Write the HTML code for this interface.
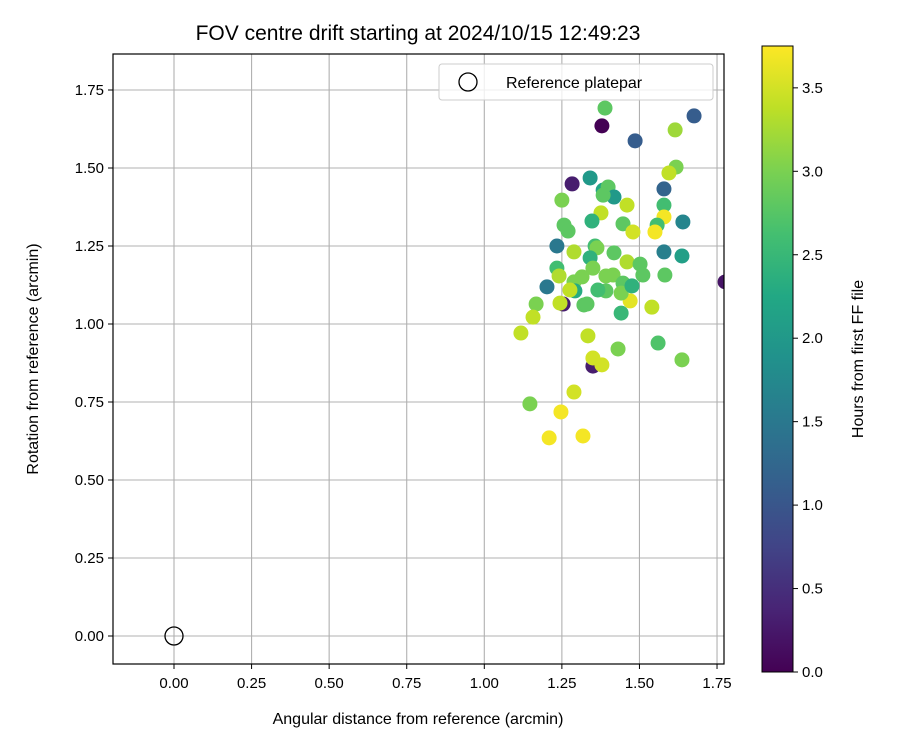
<!DOCTYPE html>
<html><head><meta charset="utf-8"><style>
body{margin:0;background:#fff}
svg text{font-family:"Liberation Sans","DejaVu Sans",sans-serif;fill:#000}
</style></head><body>
<svg id="c" width="900" height="750" xmlns="http://www.w3.org/2000/svg">
<defs>
<clipPath id="pc"><rect x="113" y="54" width="611" height="610"/></clipPath>
<linearGradient id="vir" x1="0" y1="1" x2="0" y2="0">
<stop offset="0" stop-color="#440154"/><stop offset="0.1" stop-color="#482475"/><stop offset="0.2" stop-color="#414487"/><stop offset="0.3" stop-color="#355f8d"/><stop offset="0.4" stop-color="#2a788e"/><stop offset="0.5" stop-color="#21918c"/><stop offset="0.6" stop-color="#22a884"/><stop offset="0.7" stop-color="#44bf70"/><stop offset="0.8" stop-color="#7ad151"/><stop offset="0.9" stop-color="#bddf26"/><stop offset="1" stop-color="#fde725"/>
</linearGradient>
</defs>
<text x="418" y="40" font-size="21" text-anchor="middle">FOV centre drift starting at 2024/10/15 12:49:23</text>
<g id="grid"></g>
<g id="pts" clip-path="url(#pc)"></g>
<rect x="113" y="54" width="611" height="610" fill="none" stroke="#000" stroke-width="1.2"/>
<g id="ticks"></g>
<text x="418" y="724" font-size="16" text-anchor="middle">Angular distance from reference (arcmin)</text>
<text transform="translate(38,359) rotate(-90)" font-size="16" text-anchor="middle">Rotation from reference (arcmin)</text>
<g>
<rect x="439" y="64" width="274" height="36" rx="3" fill="#fff" fill-opacity="0.8" stroke="#ccc"/>
<circle cx="468" cy="82" r="9" fill="none" stroke="#000" stroke-width="1.3"/>
<text x="506" y="88" font-size="16">Reference platepar</text>
</g>
<rect x="762" y="46" width="31" height="626" fill="url(#vir)" stroke="#000" stroke-width="1"/>
<g id="cbt"></g>
<text transform="translate(863,359) rotate(-90)" font-size="16" text-anchor="middle">Hours from first FF file</text>
</svg>
<script>
const xTicks=[0,0.25,0.5,0.75,1.0,1.25,1.5,1.75];
const yTicks=[0,0.25,0.5,0.75,1.0,1.25,1.5,1.75];
const cbTicks=[0,0.5,1.0,1.5,2.0,2.5,3.0,3.5];
const refX=[0];const refY=[0];
const xs=[1.389,1.379,1.676,1.615,1.486,1.618,1.595,1.283,1.341,1.579,1.383,1.399,1.418,1.383,1.250,1.460,1.376,1.579,1.579,1.557,1.257,1.347,1.270,1.447,1.640,1.479,1.550,1.234,1.357,1.289,1.363,1.418,1.579,1.637,1.234,1.341,1.460,1.502,1.511,1.415,1.241,1.289,1.350,1.392,1.582,1.447,1.202,1.292,1.167,1.254,1.244,1.321,1.331,1.392,1.470,1.441,1.540,1.157,1.118,1.441,1.276,1.315,1.366,1.476,1.334,1.431,1.560,1.637,1.350,1.350,1.379,1.147,1.289,1.247,1.209,1.318,1.776];
const ys=[1.692,1.635,1.667,1.622,1.587,1.503,1.484,1.449,1.468,1.433,1.429,1.439,1.407,1.413,1.397,1.381,1.356,1.381,1.343,1.317,1.317,1.330,1.298,1.321,1.327,1.295,1.295,1.250,1.250,1.231,1.244,1.228,1.231,1.218,1.179,1.212,1.199,1.192,1.157,1.157,1.154,1.135,1.179,1.154,1.157,1.131,1.119,1.106,1.064,1.064,1.067,1.061,1.064,1.106,1.074,1.099,1.054,1.022,0.971,1.035,1.109,1.151,1.109,1.122,0.962,0.920,0.939,0.885,0.865,0.891,0.869,0.744,0.782,0.718,0.635,0.641,1.135];
const hours=[2.8,0.0,1.1,3.2,1.1,3.0,3.4,0.3,2.0,1.2,2.2,2.8,2.0,2.8,3.0,3.4,3.4,2.6,3.7,2.6,2.8,2.4,2.8,2.8,1.7,3.5,3.7,1.5,2.6,3.3,3.0,2.8,1.6,2.1,2.6,2.4,3.3,2.8,2.8,3.0,3.3,3.0,3.0,3.0,2.8,2.8,1.5,2.3,3.0,0.3,3.4,2.8,2.8,2.8,3.6,3.0,3.4,3.4,3.4,2.5,3.4,3.0,2.6,2.4,3.4,3.0,2.7,3.0,0.3,3.5,3.5,3.0,3.5,3.7,3.7,3.7,0.2];
const NS="http://www.w3.org/2000/svg";
const X=v=>174+v*310.3, Y=v=>636-v*312, CB=v=>672-v*166.9;
const vir=["#440154","#482475","#414487","#355f8d","#2a788e","#21918c","#22a884","#44bf70","#7ad151","#bddf26","#fde725"];
function hex(c){return [1,3,5].map(i=>parseInt(c.substr(i,2),16));}
function col(h){let t=Math.max(0,Math.min(1,h/3.75))*10;let i=Math.min(9,Math.floor(t)),f=t-i;let a=hex(vir[i]),b=hex(vir[i+1]);return "rgb("+a.map((v,k)=>Math.round(v+(b[k]-v)*f)).join(",")+")";}
function mk(tag,at,parent){const e=document.createElementNS(NS,tag);for(const k in at)e.setAttribute(k,at[k]);parent.appendChild(e);return e;}
const grid=document.getElementById('grid'),ticks=document.getElementById('ticks'),pts=document.getElementById('pts'),cbt=document.getElementById('cbt');
xTicks.forEach(v=>{const l=mk('line',{x1:X(v),x2:X(v),y1:54,y2:664,stroke:'#b0b0b0','stroke-width':1.1},grid);

mk('line',{x1:X(v),x2:X(v),y1:664,y2:669,stroke:'#000'},ticks);
const t=mk('text',{x:X(v),y:688,'font-size':15,'text-anchor':'middle'},ticks);t.textContent=v.toFixed(2);
});
yTicks.forEach(v=>{const l=mk('line',{x1:113,x2:724,y1:Y(v),y2:Y(v),stroke:'#b0b0b0','stroke-width':1.1},grid);

mk('line',{x1:108,x2:113,y1:Y(v),y2:Y(v),stroke:'#000'},ticks);
const t=mk('text',{x:104,y:Y(v)+5,'font-size':15,'text-anchor':'end'},ticks);t.textContent=v.toFixed(2);
});
xs.forEach((x,i)=>{const c=mk('circle',{cx:X(x),cy:Y(ys[i]),r:7.5,fill:col(hours[i])},pts);
});
refX.forEach((x,i)=>{const c=mk('circle',{cx:X(x),cy:Y(refY[i]),r:9,fill:'none',stroke:'#000','stroke-width':1.3},pts);
});
cbTicks.forEach(v=>{mk('line',{x1:793,x2:798,y1:CB(v),y2:CB(v),stroke:'#000'},cbt);
const t=mk('text',{x:802,y:CB(v)+5,'font-size':15},cbt);t.textContent=v.toFixed(1);
});
</script>
</body></html>
